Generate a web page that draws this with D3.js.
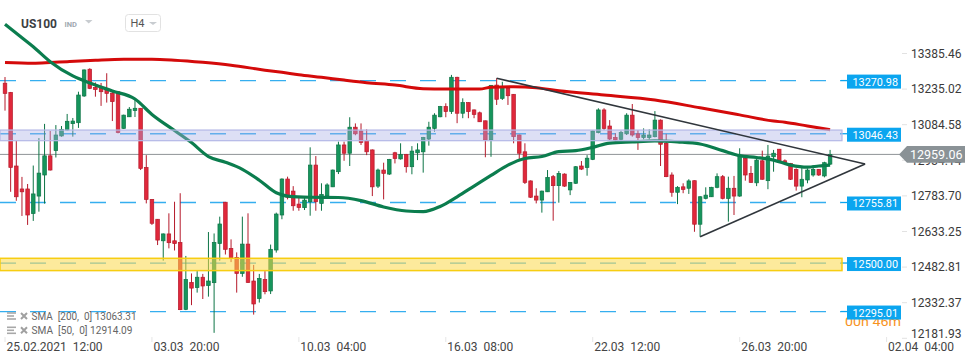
<!DOCTYPE html>
<html><head><meta charset="utf-8">
<script src="https://cdn.jsdelivr.net/npm/d3@7"></script>
<style>
html,body{margin:0;padding:0;background:#fff;}
svg{display:block;font-family:Roboto,"Noto Sans",sans-serif;}
</style></head><body>
<svg id="c" width="970" height="364"></svg>
<script>
// ---- data (H4 candles, US100) ----
const opens=[13260,13221,12910,12813,12813,12709,12783,12872,12953,12975,13037,13062,13089,13093,13206,13319,13242,13238,13234,13218,13224,13069,13118,13144,13154,12904,12769,12685,12594,12623,12594,12587,12304,12418,12396,12440,12405,12417,12582,12757,12562,12524,12456,12580,12424,12350,12431,12382,12555,12703,12855,12804,12749,12734,12759,12914,12752,12783,12822,12886,12999,12964,13074,13058,13017,12978,12825,12893,12876,12966,12940,12959,12907,12966,12970,13024,13069,13118,13161,13140,13285,13133,13178,13147,13135,13101,13020,13252,13196,13238,13213,13041,12970,12847,12783,12766,12801,12865,12827,12876,12809,12837,12910,12904,12938,13051,13147,13079,13031,13023,13046,13125,13046,13030,13030,13034,13104,13006,12872,12799,12822,12816,12848,12664,12773,12780,12820,12865,12773,12816,12783,12943,12879,12839,12932,12848,12949,12981,12932,12921,12896,12825,12851,12872,12896,12868,12918];
const highs=[13286,13223,13016,12864,12834,12912,13028,13088,13058,13083,13079,13130,13113,13224,13318,13323,13263,13261,13302,13231,13227,13127,13159,13193,13155,12956,12770,12686,12625,12710,12759,12795,12530,12456,12466,12454,12631,12625,12696,12758,12600,12545,12696,12710,12492,12454,12466,12578,12713,12858,12865,12825,12778,12780,12989,12952,12837,12837,12895,13013,13013,13116,13090,13090,13065,12980,12899,12924,12940,12970,13006,12961,12994,13006,13033,13097,13133,13164,13175,13295,13287,13196,13179,13149,13140,13102,13252,13281,13266,13240,13214,13043,13006,12849,12816,12806,12893,12872,12889,12879,12842,12910,12931,12956,13060,13154,13154,13104,13048,13059,13133,13172,13062,13069,13065,13142,13107,13046,12883,12825,12837,12854,12849,12783,12820,12822,12879,12872,12865,12868,12985,12949,12910,12943,12975,12999,12978,12982,12938,12923,12900,12910,12900,12914,12897,12928,12978];
const lows=[13144,12801,12763,12699,12661,12678,12717,12751,12891,12946,13034,13060,13034,13071,13202,13235,13203,13164,13178,13100,13048,13067,13117,13117,12893,12752,12661,12576,12510,12562,12553,12301,12301,12322,12375,12348,12358,12205,12510,12536,12504,12375,12442,12416,12282,12333,12368,12369,12544,12685,12769,12721,12721,12724,12700,12721,12721,12771,12821,12876,12932,12910,13040,12999,12956,12783,12817,12769,12872,12921,12937,12882,12875,12935,12882,12996,13055,13116,13116,13130,13091,13112,13112,13112,13096,12947,12949,13168,13189,13168,13006,12935,12834,12775,12752,12713,12800,12679,12755,12822,12787,12834,12893,12869,12935,13048,13062,13020,13006,13013,13041,13034,12978,13023,13023,13031,12910,12863,12780,12749,12795,12792,12632,12611,12769,12779,12816,12769,12675,12703,12780,12848,12839,12825,12852,12812,12886,12925,12914,12851,12806,12778,12837,12865,12868,12862,12914];
const closes=[13217,12904,12780,12801,12703,12792,12880,12953,12893,13041,13065,13099,13100,13210,13316,13238,13233,13224,13217,13182,13051,13125,13150,13154,12900,12769,12668,12597,12623,12586,12582,12303,12431,12394,12440,12403,12424,12587,12665,12558,12521,12456,12580,12418,12327,12435,12379,12558,12707,12855,12778,12742,12735,12766,12914,12759,12790,12830,12893,12999,12964,13074,13046,13010,12970,12822,12893,12879,12938,12942,12959,12907,12973,12978,13031,13074,13125,13161,13140,13285,13133,13178,13140,13128,13097,13020,13251,13192,13245,13207,13034,12964,12841,12778,12766,12804,12862,12827,12879,12825,12841,12907,12897,12943,13058,13147,13069,13024,13020,13051,13125,13041,13030,13041,13041,13104,13002,12865,12799,12820,12811,12847,12664,12780,12787,12820,12865,12773,12816,12783,12952,12872,12841,12935,12854,12952,12964,12928,12921,12854,12825,12854,12893,12896,12872,12924,12959.06];

const sma200Idx=[0,5,8,11,16,21,26,30,35,40,46,49,52,56,60,64,69,74,78,84,86,90,94,98,106,115,123,130,136,138,142,146];
const sma200Val=[13347,13344,13347,13351,13357,13361,13361,13357,13348,13336,13315,13306,13296,13285,13273,13262,13252,13237,13235,13235,13243,13245,13241,13228,13210,13189,13156,13126,13100,13095,13079,13063.31];
const sma50Idx=[0,3,5,8,12,15,19,23,26,30,33,36,39,42,45,48,50,54,59,63,67,71,74,77,80,83,86,89,92,95,98,101,104,107,111,115,119,123,127,130,133,136,139,142,144,146];
const sma50Val=[13509,13452,13414,13351,13291,13261,13227,13193,13128,13060,13009,12950,12926,12896,12850,12797,12783,12778,12777,12764,12737,12720,12717,12739,12780,12825,12870,12914,12942,12950,12971,12975,12989,13007,13012,13016,13012,13003,12975,12954,12946,12935,12914,12905,12910,12914.09];

const levels=[13270.98,13046.43,12755.81,12500.00,12295.01];
const zoneBlue=[13017,13062];
const zoneYellow=[12468,12520];
const yTicks=[13385.46,13235.02,13084.58,12934.14,12783.70,12633.25,12482.81,12332.37,12181.93];
const xTickIdx=[0,26,52,78,104,130,156];
const xTickLabels=["25.02.2021  12:00","03.03  20:00","10.03  04:00","16.03  08:00","22.03  12:00","26.03  20:00","02.04  04:00"];
const lastPrice=12959.06;
const trendUpper=[[87,13281],[152.2,12918.5]];
const trendLower=[[123,12611],[152.2,12918.5]];
const legendItems=["SMA  [200,  0] 13063.31","SMA  [50,  0] 12914.09"];

// ---- scales ----
const x=d3.scaleLinear().domain([0,156]).range([5,886.6]);
const y=d3.scaleLinear().domain([12181.93,13385.46]).range([338.3,53.5]);
const svg=d3.select("#c");
const GREEN="#16955c", GREEN_D="#0d7446", RED="#e0283b", RED_D="#b51a2b";

// level dashed lines
const lv=svg.append("g");
levels.forEach(l=>{
  lv.append("line").attr("x1",0).attr("x2",841).attr("y1",y(l)).attr("y2",y(l))
    .attr("stroke","#35aeef").attr("stroke-width",1.3).attr("stroke-dasharray","16,14");
  lv.append("line").attr("x1",841).attr("x2",848).attr("y1",y(l)).attr("y2",y(l))
    .attr("stroke","#0ba5ef").attr("stroke-width",1.3);
});

// current price line
svg.append("line").attr("x1",0).attr("x2",900).attr("y1",y(lastPrice)).attr("y2",y(lastPrice))
  .attr("stroke","#8e9396").attr("stroke-width",1);

// candles
const candles=opens.map((o,i)=>({i,o,h:highs[i],l:lows[i],c:closes[i]}));
const cg=svg.append("g");
candles.forEach(d=>{
  const up=d.c>=d.o;
  cg.append("line").attr("x1",x(d.i)).attr("x2",x(d.i)).attr("y1",y(d.h)).attr("y2",y(d.l))
    .attr("stroke",up?GREEN_D:RED_D).attr("stroke-width",1);
  const top=y(Math.max(d.o,d.c)), bot=y(Math.min(d.o,d.c));
  cg.append("rect").attr("x",x(d.i)-1.8).attr("width",3.6).attr("y",top).attr("height",Math.max(1,bot-top))
    .attr("fill",up?GREEN:RED).attr("stroke",up?GREEN_D:RED_D).attr("stroke-width",0.7);
});

// SMAs
const line=d3.line().x(d=>x(d[0])).y(d=>y(d[1])).curve(d3.curveMonotoneX);
svg.append("path").attr("d",line(sma200Idx.map((v,k)=>[v,sma200Val[k]])))
  .attr("fill","none").attr("stroke","#d40a0a").attr("stroke-width",3);
svg.append("path").attr("d",line(sma50Idx.map((v,k)=>[v,sma50Val[k]])))
  .attr("fill","none").attr("stroke","#0b7d4e").attr("stroke-width",3.2);

// zones
svg.append("rect").attr("x",0).attr("width",842).attr("y",y(zoneBlue[1])).attr("height",y(zoneBlue[0])-y(zoneBlue[1]))
  .attr("fill","#aab0e6").attr("fill-opacity",0.4).attr("stroke","#b4b8e6").attr("stroke-width",1.2);
svg.append("rect").attr("x",0).attr("width",842).attr("y",y(zoneYellow[1])).attr("height",y(zoneYellow[0])-y(zoneYellow[1]))
  .attr("fill","#fbd84a").attr("fill-opacity",0.55).attr("stroke","#f7cd12").attr("stroke-width",1.5);

// trend lines
[trendUpper,trendLower].forEach(t=>{
  svg.append("line").attr("x1",x(t[0][0])).attr("y1",y(t[0][1])).attr("x2",x(t[1][0])).attr("y2",y(t[1][1]))
    .attr("stroke","#30363c").attr("stroke-width",1.6);
});

// right axis
const ax=svg.append("g").attr("font-size",12).attr("fill","#3a3a3a");
yTicks.forEach(t=>{
  const yy=Math.min(y(t),333.5);
  ax.append("line").attr("x1",902).attr("x2",907).attr("y1",y(t)).attr("y2",y(t)).attr("stroke","#e2e2e2");
  ax.append("text").attr("x",911).attr("y",yy+4.3).text(t.toFixed(2));
});

// countdown (partly covered by the level label, as in the source)
svg.append("text").attr("x",845).attr("y",325.5).attr("font-size",13).attr("fill","#f7931e")
  .attr("textLength",56).attr("lengthAdjust","spacingAndGlyphs").text("00h 46m");

// level labels
levels.forEach(l=>{
  svg.append("rect").attr("x",847).attr("y",y(l)-6).attr("width",54).attr("height",14).attr("fill","#0ba5ef");
  svg.append("text").attr("x",852.5).attr("y",y(l)+5).attr("font-size",11.5).attr("fill","#fff")
    .attr("textLength",45.5).attr("lengthAdjust","spacingAndGlyphs").text(l.toFixed(2));
});

// current price label
const yc=y(lastPrice);
svg.append("path").attr("d",`M899,${yc} L907,${yc-8.3} L965,${yc-8.3} L965,${yc+8.3} L907,${yc+8.3} Z`).attr("fill","#8a9296");
svg.append("text").attr("x",910).attr("y",yc+4.5).attr("font-size",12.5).attr("fill","#fff").text(lastPrice.toFixed(2));

// bottom axis
xTickIdx.forEach((t,k)=>{
  svg.append("line").attr("x1",x(t)).attr("x2",x(t)).attr("y1",337).attr("y2",342).attr("stroke","#e6e6e6");
  svg.append("text").attr("x",x(t)+1.5).attr("y",350.5).attr("font-size",12).attr("fill","#444")
    .style("white-space","pre").text(xTickLabels[k]);
});

// legend
legendItems.forEach((s,k)=>{
  const by=316+k*14.3;
  const g=svg.append("g");
  [-3,0,3].forEach((dy,j)=>g.append("line").attr("x1",7).attr("x2",j==1?14:16).attr("y1",by+dy).attr("y2",by+dy).attr("stroke","#a8a8a8").attr("stroke-width",1.6));
  g.append("path").attr("d",`M21,${by-3} L27,${by+3} M27,${by-3} L21,${by+3}`).attr("stroke","#a0a0a0").attr("stroke-width",2);
  g.append("text").attr("x",31.5).attr("y",by+4).attr("font-size",11).attr("fill","#666")
    .style("white-space","pre").attr("textLength",k==0?105:101).attr("lengthAdjust","spacingAndGlyphs").text(s);
});

// header
svg.append("text").attr("x",21).attr("y",27.5).attr("font-size",12).attr("font-weight","bold").attr("fill","#3c4043").text("US100");
svg.append("text").attr("x",64.5).attr("y",26.8).attr("font-size",7.5).attr("font-weight","bold").attr("fill","#a0a8b0").text("IND");
svg.append("path").attr("d","M85,20 L92.5,20 L88.7,23.5 Z").attr("fill","#c8ccd0");
svg.append("rect").attr("x",125.5).attr("y",14.5).attr("width",35).attr("height",17).attr("rx",3).attr("fill","#fff").attr("stroke","#e2e2e2");
svg.append("text").attr("x",130.5).attr("y",27).attr("font-size",11).attr("fill","#555").text("H4");
svg.append("path").attr("d","M149,22 L157,22 L153,25 Z").attr("fill","#c8ccd0");
</script>
</body></html>
